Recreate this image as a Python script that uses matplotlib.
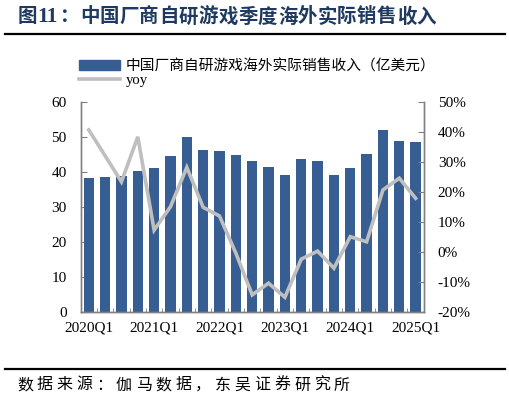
import matplotlib
matplotlib.use("Agg")
import matplotlib.pyplot as plt
from matplotlib.lines import Line2D
from matplotlib.ticker import FuncFormatter, FixedLocator

plt.rcParams["font.family"] = ["Liberation Serif", "Noto Sans CJK SC"]

quarters = ["2020Q1", "2020Q2", "2020Q3", "2020Q4",
            "2021Q1", "2021Q2", "2021Q3", "2021Q4",
            "2022Q1", "2022Q2", "2022Q3", "2022Q4",
            "2023Q1", "2023Q2", "2023Q3", "2023Q4",
            "2024Q1", "2024Q2", "2024Q3", "2024Q4",
            "2025Q1"]
revenue = [38.1, 38.4, 38.8, 40.3, 41.0, 44.4, 50.0, 46.2, 45.9, 44.8, 43.0,
           41.3, 39.1, 43.6, 43.1, 39.1, 41.1, 45.1, 52.0, 48.7, 48.4]
yoy = [40.6, 32.0, 23.3, 38.3, 7.2, 15.0, 28.1, 14.8, 11.9, -0.5, -14.4,
       -10.5, -15.2, -2.5, 0.2, -5.5, 5.0, 3.3, 20.6, 24.5, 17.8]
shown_labels = ["2020Q1", "2021Q1", "2022Q1", "2023Q1", "2024Q1", "2025Q1"]

title_num = "11"
title_text = "：中国厂商自研游戏季度海外实际销售收入"
legend_labels = ["中国厂商自研游戏海外实际销售收入（亿美元）", "yoy"]
source_text = "数据来源：伽马数据，东吴证券研究所"

bar_color = "#365E92"
line_color = "#BFBFBF"
spine_color = "#808080"
title_color = "#1F3A60"
cjk = ["Noto Sans CJK SC", "DejaVu Sans"]

W, H = 510, 403
fig = plt.figure(figsize=(W / 100, H / 100), dpi=100)
ax = fig.add_axes([0.158, 0.2266, 0.673, 0.521])
ax2 = ax.twinx()


def spaced_text(x_px, y_px, s, step_px, **kw):
    # draw a string one character at a time, the reference fonts are letter-spaced
    for i, ch in enumerate(s):
        fig.text((x_px + i * step_px) / W, 1 - y_px / H, ch,
                 ha="left", va="center", **kw)


x = list(range(len(quarters)))
ax.bar(x, revenue, width=0.63, color=bar_color, zorder=2)
ax2.plot(x, [v / 100 for v in yoy], color=line_color, lw=2.6, zorder=3,
         solid_joinstyle="miter")

ax.set_xlim(-0.5, len(quarters) - 0.5)
ax.set_ylim(0, 60)
ax.set_yticks(range(0, 61, 10))
ax2.set_ylim(-0.2, 0.5)
ax2.set_yticks([-0.2, -0.1, 0, 0.1, 0.2, 0.3, 0.4, 0.5])
ax2.yaxis.set_major_formatter(FuncFormatter(lambda v, p: f"{v * 100:.0f}%"))

ax.set_xticks([quarters.index(q) for q in shown_labels])
ax.set_xticklabels(shown_labels)
ax.xaxis.set_minor_locator(FixedLocator([i - 0.5 for i in range(len(quarters) + 1)]))
ax.tick_params(axis="x", which="major", length=0, pad=7, labelsize=11)
ax.tick_params(axis="x", which="minor", direction="in", length=3,
               color=spine_color)
ax.tick_params(axis="y", direction="in", length=4, color=spine_color,
               pad=10, labelsize=11)
ax2.tick_params(axis="y", direction="in", length=4, color=spine_color,
                pad=10, labelsize=11)

for a in (ax, ax2):
    a.spines["top"].set_visible(False)
    for s in ("left", "right", "bottom"):
        a.spines[s].set_color(spine_color)
        a.spines[s].set_linewidth(1)

handles = [
    plt.Rectangle((0, 0), 1, 1, color=bar_color),
    Line2D([0], [0], color=line_color, lw=2.6),
]
fig.legend(handles, legend_labels,
           loc="upper left", bbox_to_anchor=(0.141, 0.872), frameon=False,
           handlelength=2.8, handleheight=0.6, handletextpad=0.35,
           labelspacing=0.05, borderpad=0,
           prop={"family": ["Liberation Serif", "Noto Sans CJK SC"], "size": 10.6})

# title: 图 + bold serif number + letter-spaced chinese
fig.text(18 / W, 1 - 17 / H, "图", family=cjk, fontsize=14,
         fontweight="bold", color=title_color, ha="left", va="center")
fig.text(37 / W, 1 - 17 / H, title_num, family="Liberation Serif",
         fontsize=15.5, fontweight="bold", color=title_color, ha="left", va="center")
spaced_text(60, 17, title_text, 19.8, family=cjk, fontsize=14,
            fontweight="bold", color=title_color)

fig.add_artist(Line2D([0.01, 0.99], [0.916, 0.916], color="black", lw=1.6))
fig.add_artist(Line2D([0.01, 0.99], [0.084, 0.084], color="black", lw=1.6))
spaced_text(17, 385, source_text, 19.8, family=cjk, fontsize=11.5,
            color="black")

fig.savefig("out.png", dpi=100)
